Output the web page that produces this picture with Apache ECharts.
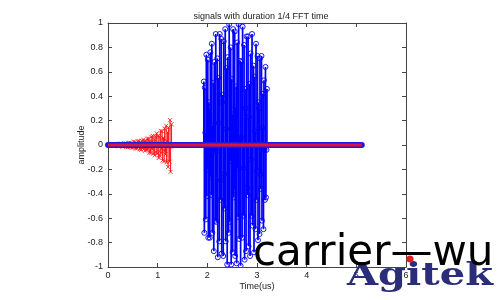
<!DOCTYPE html>
<html>
<head>
<meta charset="utf-8">
<script src="https://cdn.jsdelivr.net/npm/echarts@6/dist/echarts.min.js"></script>
<style>html,body{margin:0;padding:0;background:#fff;}#c{width:500px;height:300px;}</style>
</head>
<body>
<div id="c"></div>
<script>
const titleText = 'signals with duration 1/4 FFT time';
const xName = 'Time(us)';
const yName = 'amplitude';
const xTicks = [0, 1, 2, 3, 4, 5, 6];
const yTicks = [-1, -0.8, -0.6, -0.4, -0.2, 0, 0.2, 0.4, 0.6, 0.8, 1];
const sampleStep = 0.01;
const blueStart = 1.92;
const blueValues = [0.00,0.52,-0.72,0.47,0.10,-0.61,0.74,-0.42,-0.20,0.70,
-0.76,0.35,0.30,-0.76,0.76,-0.26,-0.41,0.83,-0.72,0.16,
0.51,-0.87,0.68,-0.05,-0.62,0.91,-0.63,-0.05,0.71,-0.92,
0.55,0.18,-0.79,0.91,-0.45,-0.29,0.87,-0.89,0.35,0.41,
-0.91,0.85,-0.24,-0.52,0.95,-0.79,0.13,0.63,-0.98,0.72,
0.00,-0.72,0.99,-0.63,-0.13,0.80,-0.98,0.54,0.25,-0.88,
0.95,-0.43,-0.37,0.93,-0.91,0.31,0.48,-0.97,0.84,-0.19,
-0.59,0.99,-0.77,0.06,0.69,-0.99,0.68,0.06,-0.76,0.97,
-0.58,-0.19,0.82,-0.94,0.46,0.30,-0.87,0.89,-0.35,-0.41,
0.89,-0.83,0.23,0.50,-0.91,0.75,-0.12,-0.58,0.91,-0.66,
0.00,0.65,-0.88,0.56,0.11,-0.69,0.83,-0.45,-0.21,0.73,
-0.78,0.35,0.30,-0.73,0.71,-0.24,-0.36,0.73,-0.62,0.14,
0.42,-0.69,0.53,-0.04,-0.45,0.64,-0.43,-0.04,0.46];
const redStart = 0;
const redValues = [0,0.004,-0.006,0.004,0.001,-0.005,0.006,-0.004,-0.002,0.006,
-0.008,0.003,0.003,-0.007,0.007,-0.002,-0.004,0.008,-0.007,0.002,
0.006,-0.011,0.009,-0.001,-0.008,0.012,-0.008,-0.001,0.010,-0.013,
0.008,0.003,-0.011,0.013,-0.007,-0.005,0.014,-0.015,0.006,0.008,
-0.018,0.017,-0.005,-0.011,0.020,-0.017,0.003,0.014,-0.022,0.016,
0,-0.020,0.028,-0.018,-0.004,0.024,-0.029,0.016,0.008,-0.028,
0.031,-0.015,-0.013,0.033,-0.034,0.012,0.019,-0.039,0.035,-0.008,
-0.025,0.044,-0.035,0.003,0.032,-0.048,0.034,0.003,-0.039,0.052,
-0.034,-0.012,0.053,-0.063,0.032,0.021,-0.065,0.068,-0.028,-0.033,
0.075,-0.071,0.021,0.046,-0.085,0.072,-0.012,-0.060,0.096,-0.072,
0,0.075,-0.106,0.070,0.015,-0.093,0.116,-0.065,-0.031,0.112,
-0.126,0.059,0.052,-0.135,0.136,-0.048,-0.076,0.158,-0.141,0.033,
0.104,-0.180,0.144,-0.011,-0.137,0.204,-0.220,-0.013,0.170];
const zeroLine = [[0, 0], [5.11, 0]];
const watermarkText = 'carrier\u2014wu';
const logoText = 'Agitek';

function toPairs(start, vals) {
  return vals.map((v, i) => [Math.round((start + i * sampleStep) * 100) / 100, v]);
}
const blueData = toPairs(blueStart, blueValues);
const redData = toPairs(redStart, redValues);

function stemRender(color, marker, dash, lw) {
  return function (params, api) {
    const x = api.value(0), y = api.value(1);
    const p0 = api.coord([x, 0]);
    const p1 = api.coord([x, y]);
    const children = [{
      type: 'line',
      shape: { x1: p0[0], y1: p0[1], x2: p1[0], y2: p1[1] },
      style: { stroke: color, lineWidth: lw, lineDash: dash }
    }];
    if (marker === 'o') {
      children.push({ type: 'circle', shape: { cx: p1[0], cy: p1[1], r: 2.5 },
        style: { stroke: color, fill: 'none', lineWidth: 0.9 } });
    } else {
      const s = 2;
      children.push({ type: 'line', shape: { x1: p1[0] - s, y1: p1[1] - s, x2: p1[0] + s, y2: p1[1] + s },
        style: { stroke: color, lineWidth: 0.8 } });
      children.push({ type: 'line', shape: { x1: p1[0] - s, y1: p1[1] + s, x2: p1[0] + s, y2: p1[1] - s },
        style: { stroke: color, lineWidth: 0.8 } });
    }
    return { type: 'group', children };
  };
}

const axisColor = '#444';
const labelFont = 'Liberation Sans';
const chart = echarts.init(document.getElementById('c'), null, { renderer: 'canvas' });
const option = {
  animation: false,
  backgroundColor: '#fff',
  title: {
    text: titleText, left: 256, top: 7, textAlign: 'center',
    textStyle: { fontSize: 9, fontWeight: 'normal', color: '#222', fontFamily: labelFont }
  },
  grid: { left: 108, right: 94, top: 23, bottom: 33, outerBoundsMode: 'none' },
  xAxis: [{
    type: 'value', min: xTicks[0], max: xTicks[xTicks.length - 1], interval: 1,
    name: xName, nameLocation: 'middle', nameGap: 15, nameMoveOverlap: false,
    nameTextStyle: { fontSize: 9, color: '#222', fontFamily: labelFont },
    axisLine: { show: true, onZero: false, lineStyle: { color: axisColor, width: 1 } },
    axisTick: { show: true, inside: true, length: 4, lineStyle: { color: axisColor } },
    axisLabel: { fontSize: 9, color: '#222', margin: 4, fontFamily: labelFont },
    splitLine: { show: false }
  }, {
    type: 'value', position: 'top', min: xTicks[0], max: xTicks[xTicks.length - 1], interval: 1,
    axisLine: { show: true, onZero: false, lineStyle: { color: axisColor, width: 1 } },
    axisTick: { show: true, inside: true, length: 4, lineStyle: { color: axisColor } },
    axisLabel: { show: false }, splitLine: { show: false }
  }],
  yAxis: [{
    type: 'value', min: yTicks[0], max: yTicks[yTicks.length - 1], interval: 0.2,
    name: yName, nameLocation: 'middle', nameGap: 22, nameRotate: 90, nameMoveOverlap: false,
    nameTextStyle: { fontSize: 9, color: '#222', fontFamily: labelFont },
    axisLine: { show: true, onZero: false, lineStyle: { color: axisColor, width: 1 } },
    axisTick: { show: true, inside: true, length: 4, lineStyle: { color: axisColor } },
    axisLabel: { fontSize: 9, color: '#222', margin: 5, fontFamily: labelFont },
    splitLine: { show: false }
  }, {
    type: 'value', position: 'right', min: yTicks[0], max: yTicks[yTicks.length - 1], interval: 0.2,
    axisLine: { show: true, onZero: false, lineStyle: { color: axisColor, width: 1 } },
    axisTick: { show: true, inside: true, length: 4, lineStyle: { color: axisColor } },
    axisLabel: { show: false }, splitLine: { show: false }
  }],
  series: [{
    type: 'custom', name: 'blue', data: blueData, encode: { x: 0, y: 1 },
    renderItem: stemRender('#0000ff', 'o', null, 1.7), clip: true, silent: true, z: 2
  }, {
    type: 'custom', name: 'red', data: redData, encode: { x: 0, y: 1 },
    renderItem: stemRender('#ff1010', 'x', null, 1), clip: true, silent: true, z: 3
  }, {
    type: 'line', name: 'zeroBlue', data: zeroLine, symbol: 'none', silent: true, z: 4,
    lineStyle: { color: '#1a1ae0', width: 6, cap: 'round' }
  }, {
    type: 'line', name: 'zeroRed', data: zeroLine, symbol: 'none', silent: true, z: 5,
    lineStyle: { color: '#dc143c', width: 3 }
  }],
  graphic: [{
    type: 'text', z: 100, left: 253, top: 233,
    style: { text: watermarkText, font: '42px "DejaVu Sans"', fill: '#000' }
  }, {
    type: 'text', z: 99, left: 347, top: 261, scaleX: 1.25,
    style: { text: logoText, font: 'bold 32px "DejaVu Serif"', fill: '#2b2d7a' }
  }, {
    type: 'circle', z: 101, shape: { cx: 410, cy: 259, r: 3.6 }, style: { fill: '#e02020' }
  }]
};
chart.setOption(option);
</script>
</body>
</html>
